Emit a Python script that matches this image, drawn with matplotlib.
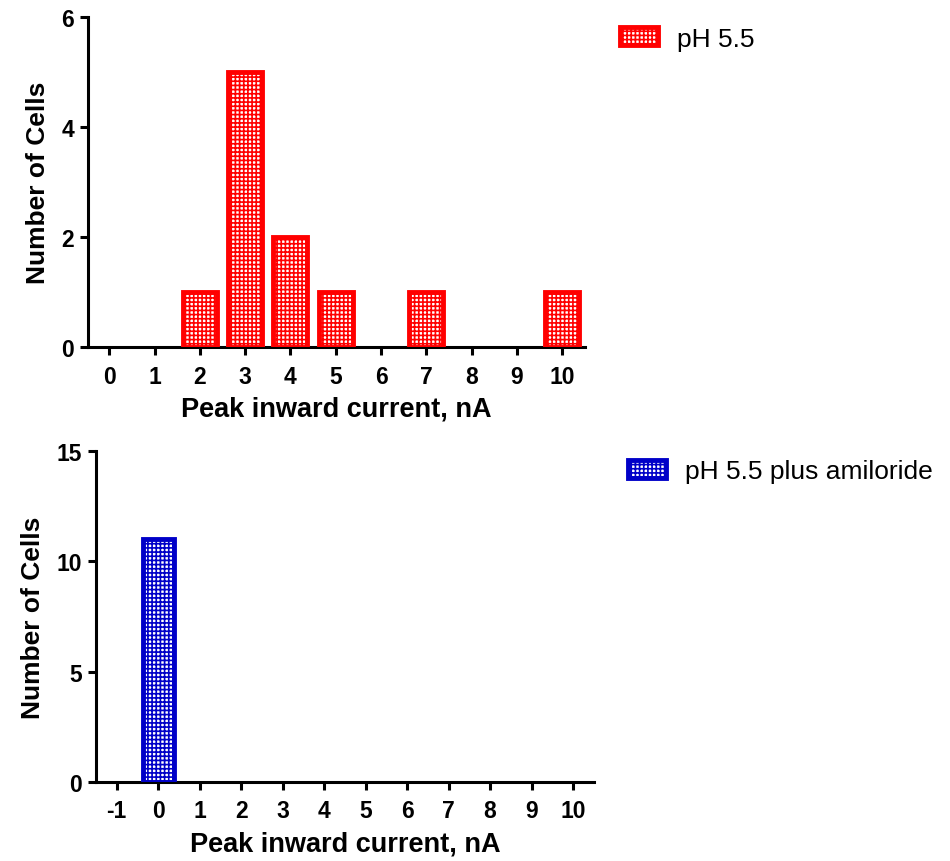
import matplotlib
matplotlib.use("Agg")
import matplotlib.pyplot as plt
import numpy as np

plt.rcParams['font.family'] = ['Liberation Sans', 'DejaVu Sans']
plt.rcParams['hatch.linewidth'] = 1.2
plt.rcParams['axes.unicode_minus'] = False

# Data
top_bins = [0, 1, 2, 3, 4, 5, 6, 7, 8, 9, 10]
top_counts = [0, 0, 1, 5, 2, 1, 0, 1, 0, 0, 1]
top_label = "pH 5.5"

bot_bins = [-1, 0, 1, 2, 3, 4, 5, 6, 7, 8, 9, 10]
bot_counts = [0, 11, 0, 0, 0, 0, 0, 0, 0, 0, 0, 0]
bot_label = "pH 5.5 plus amiloride"

xlabel = "Peak inward current, nA"
ylabel = "Number of Cells"

RED = "#ff0000"
BLUE = "#0000c8"

fig = plt.figure(figsize=(9.5, 8.62), dpi=100)
ax1 = fig.add_axes([0.0926, 0.596, 0.523, 0.383])
ax2 = fig.add_axes([0.101, 0.0916, 0.524, 0.384])


def style(ax, xlim, ylim, yticks, xticks):
    ax.set_xlim(*xlim)
    ax.set_ylim(*ylim)
    ax.set_yticks(yticks)
    ax.set_xticks(xticks)
    ax.spines['top'].set_visible(False)
    ax.spines['right'].set_visible(False)
    for s in ('left', 'bottom'):
        ax.spines[s].set_linewidth(2.2)
    ax.tick_params(axis='both', direction='out', length=6, width=2.2,
                   labelsize=16.5)
    ax.tick_params(axis='x', pad=6.5)
    ax.tick_params(axis='y', pad=4)
    for lab in ax.get_xticklabels() + ax.get_yticklabels():
        lab.set_fontweight('bold')
    ax.set_xlabel(xlabel, fontsize=19.5, fontweight='bold', labelpad=6)
    ax.set_ylabel(ylabel, fontsize=19, fontweight='bold', labelpad=8)


def draw(ax, bins, counts, color, label):
    xs = [b for b, c in zip(bins, counts) if c > 0]
    hs = [c for c in counts if c > 0]
    ax.bar(xs, hs, width=0.75, facecolor='white', edgecolor=color,
           linewidth=3.5, hatch='++++', label=label, zorder=3)


draw(ax1, top_bins, top_counts, RED, top_label)
style(ax1, (-0.47, 10.5), (0, 6), [0, 2, 4, 6], top_bins)

draw(ax2, bot_bins, bot_counts, BLUE, bot_label)
style(ax2, (-1.5, 10.5), (0, 15), [0, 5, 10, 15], bot_bins)

for ax, anchor in ((ax1, (0.6526, 0.968)), (ax2, (0.661, 0.466))):
    h, l = ax.get_legend_handles_labels()
    fig.legend(h, l, loc='upper left', bbox_to_anchor=anchor,
               bbox_transform=fig.transFigure, frameon=False, fontsize=19,
               handlelength=1.45, handleheight=0.66, handletextpad=0.72,
               borderpad=0, borderaxespad=0)

fig.savefig("out.png", dpi=100)
